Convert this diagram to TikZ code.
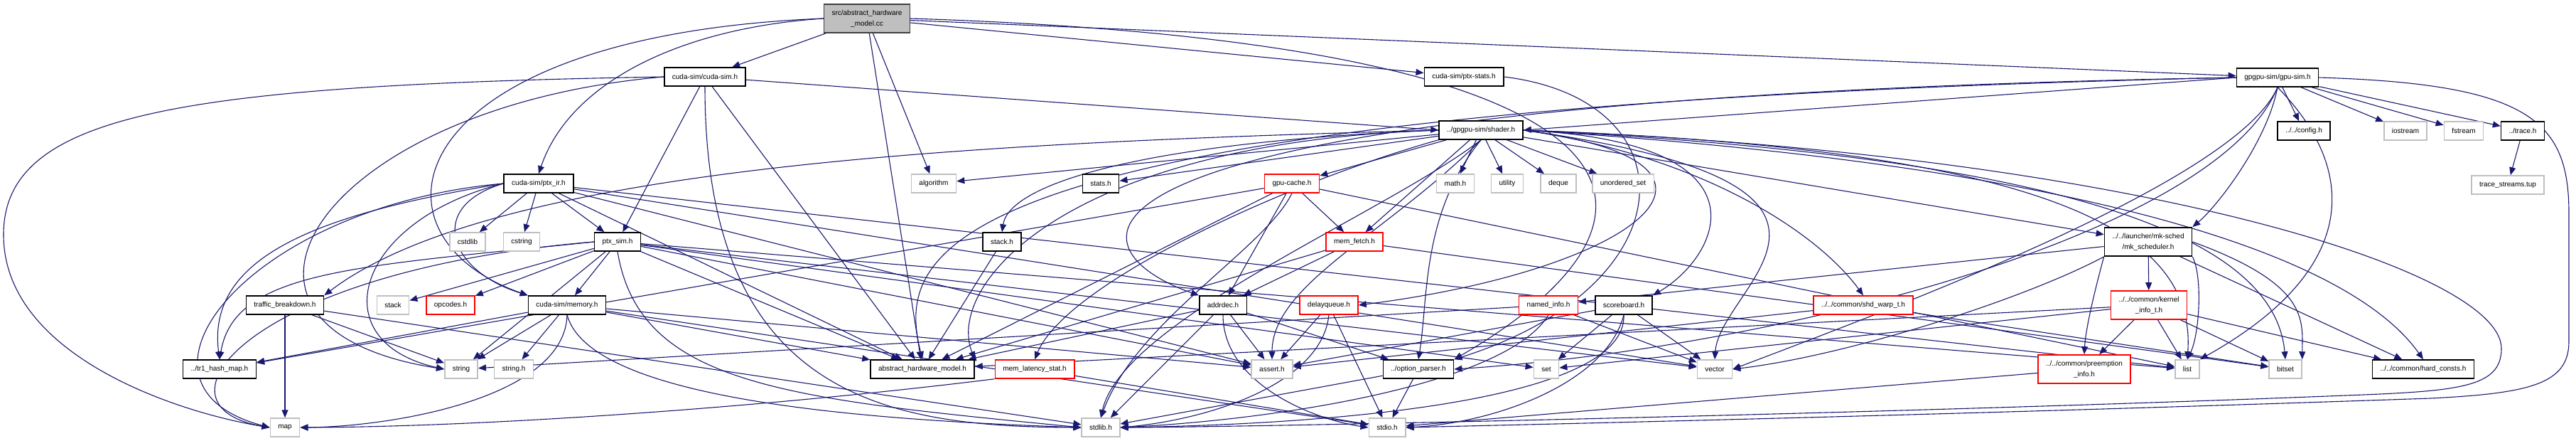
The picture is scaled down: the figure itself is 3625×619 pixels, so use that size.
\documentclass[tikz,border=0pt]{standalone}
\usepackage{fontspec}
\setmainfont{Liberation Sans}
\usepackage{tikz}
\usetikzlibrary{arrows.meta}
\definecolor{edgeBlue}{HTML}{191970}
\definecolor{sysGray}{HTML}{BFBFBF}
\definecolor{missRed}{HTML}{FF0000}
\pgfdeclarelayer{edges}
\pgfsetlayers{edges,main}
\tikzset{
  fbox/.style={rectangle, line width=1.5pt, fill=white, inner xsep=11pt, inner ysep=8pt,
    minimum height=26pt, align=center, font=\fontsize{10}{15}\selectfont},
  doc/.style={fbox, draw=black},
  sys/.style={fbox, draw=sysGray},
  miss/.style={fbox, draw=missRed},
  root/.style={fbox, draw=black!75, fill=sysGray},
  inc/.style={draw=edgeBlue, line width=1.1pt, -{Triangle[length=11pt,width=9pt]}},
}
% x, y, name, label, kind
\newcommand{\fnode}[5]{\node[#5] (#3) at (#1,#2) {#4};}

\begin{document}
\begin{tikzpicture}[x=1pt,y=-1pt]
\useasboundingbox (0,0) rectangle (3625,619);
% row 0-2
\fnode{1220}{26}{src}{src/abstract\_hardware\\\_model.cc}{root}
\fnode{992}{108}{cudasim}{cuda-sim/cuda-sim.h}{doc}
\fnode{2060}{108}{ptxstats}{cuda-sim/ptx-stats.h}{doc}
\fnode{3205}{109}{gpusim}{gpgpu-sim/gpu-sim.h}{doc}
\fnode{2084}{183}{shader}{../gpgpu-sim/shader.h}{doc}
\fnode{3242}{184}{config}{../../config.h}{doc}
\fnode{3385}{184}{iostream}{iostream}{sys}
\fnode{3467}{184}{fstream}{fstream}{sys}
\fnode{3550}{184}{trace}{../trace.h}{doc}
% row 3
\fnode{758}{258}{ptxir}{cuda-sim/ptx\_ir.h}{doc}
\fnode{1314}{258}{algorithm}{algorithm}{sys}
\fnode{1549}{258}{stats}{stats.h}{doc}
\fnode{1818}{258}{gpucache}{gpu-cache.h}{miss}
\fnode{2048}{258}{mathh}{math.h}{sys}
\fnode{2121}{258}{utility}{utility}{sys}
\fnode{2193}{258}{deque}{deque}{sys}
\fnode{2284}{258}{uset}{unordered\_set}{sys}
\fnode{3529}{260}{tracestreams}{trace\_streams.tup}{sys}
% row 4
\fnode{658}{340}{cstdlib}{cstdlib}{sys}
\fnode{734}{340}{cstring}{cstring}{sys}
\fnode{869}{340}{ptxsim}{ptx\_sim.h}{doc}
\fnode{1410}{340}{stackh}{stack.h}{doc}
\fnode{1906}{340}{memfetch}{mem\_fetch.h}{miss}
\fnode{3023}{340}{mksched}{../../launcher/mk-sched\\/mk\_scheduler.h}{doc}
% row 5
\fnode{401}{429}{traffic}{traffic\_breakdown.h}{doc}
\fnode{553}{429}{stack}{stack}{sys}
\fnode{634}{429}{opcodes}{opcodes.h}{miss}
\fnode{798}{429}{memory}{cuda-sim/memory.h}{doc}
\fnode{1721}{429}{addrdec}{addrdec.h}{doc}
\fnode{1870}{429}{delayqueue}{delayqueue.h}{miss}
\fnode{2179}{429}{namedinfo}{named\_info.h}{miss}
\fnode{2285}{429}{scoreboard}{scoreboard.h}{doc}
\fnode{2622}{429}{shdwarp}{../../common/shd\_warp\_t.h}{miss}
\fnode{3024}{429}{kernelinfo}{../../common/kernel\\\_info\_t.h}{miss}
% row 6
\fnode{309}{519}{tr1}{../tr1\_hash\_map.h}{doc}
\fnode{649}{519}{stringn}{string}{sys}
\fnode{723}{519}{stringh}{string.h}{sys}
\fnode{1298}{519}{ahmh}{abstract\_hardware\_model.h}{doc}
\fnode{1456}{519}{memlat}{mem\_latency\_stat.h}{miss}
\fnode{1790}{519}{assert}{assert.h}{sys}
\fnode{1996}{519}{optparser}{../option\_parser.h}{doc}
\fnode{2176}{519}{set}{set}{sys}
\fnode{2413}{519}{vector}{vector}{sys}
\fnode{2933}{519}{preempt}{../../common/preemption\\\_info.h}{miss}
\fnode{3078}{519}{list}{list}{sys}
\fnode{3216}{519}{bitset}{bitset}{sys}
\fnode{3410}{519}{hardconsts}{../../common/hard\_consts.h}{doc}
% row 7
\fnode{401}{601}{mapn}{map}{sys}
\fnode{1549}{601}{stdlib}{stdlib.h}{sys}
\fnode{1952}{601}{stdio}{stdio.h}{sys}

\begin{pgfonlayer}{edges}
% straight includes
\foreach \s/\t in {src/cudasim, src/algorithm, src/ahmh, src/ptxstats, src/gpusim,
  cudasim/ptxsim, cudasim/ahmh,
  gpusim/config, gpusim/iostream, gpusim/fstream, gpusim/trace,
  trace/tracestreams,
  shader/gpucache, shader/memfetch, shader/mathh, shader/utility, shader/deque,
  shader/uset, shader/stats, shader/algorithm, shader/mksched,
  ptxir/cstdlib, ptxir/cstring, ptxir/ptxsim, ptxir/assert, ptxir/ahmh, ptxir/vector, ptxir/list,
  ptxsim/memory, ptxsim/opcodes, ptxsim/stack, ptxsim/stringn, ptxsim/ahmh,
  ptxsim/assert, ptxsim/set, ptxsim/vector, ptxsim/list,
  memory/stringn, memory/stringh, memory/ahmh, memory/assert, memory/stdio, memory/tr1,
  traffic/mapn, traffic/stringn, traffic/stdlib,
  gpucache/memfetch, gpucache/addrdec, gpucache/ahmh, gpucache/tr1, gpucache/list,
  memfetch/addrdec, memfetch/ahmh, memfetch/bitset,
  stackh/ahmh,
  addrdec/assert, addrdec/stdlib, addrdec/ahmh, addrdec/optparser,
  delayqueue/assert, delayqueue/stdio,
  namedinfo/vector, namedinfo/stringn,
  scoreboard/set, scoreboard/vector, scoreboard/assert,
  optparser/stdio, optparser/stdlib,
  memlat/stdio,
  shdwarp/bitset, shdwarp/assert,
  mksched/kernelinfo, mksched/hardconsts, mksched/namedinfo,
  kernelinfo/preempt, kernelinfo/list, kernelinfo/bitset, kernelinfo/hardconsts,
  kernelinfo/ahmh, kernelinfo/set,
  preempt/stdio}
  \draw[inc] (\s) -- (\t);
% root, curved
\draw[inc] (src.west) .. controls (950,40) and (800,120) .. (ptxir.north);
\draw[inc] (src.west) .. controls (560,50) and (500,330) .. (memory.north west);
\draw[inc] (src.east) .. controls (2350,60) and (2400,300) .. (optparser.north east);
% cuda-sim.h
\draw[inc] (cudasim) -- (shader.west);
\draw[inc] (cudasim.south) .. controls (992,560) and (1250,600) .. (stdlib.west);
\draw[inc] (cudasim.west) .. controls (250,120) and (5,160) .. (5,330)
  .. controls (5,500) and (250,580) .. (mapn.west);
\draw[inc] (cudasim.west) .. controls (450,150) and (250,460) .. (stringn.west);
% ptx-stats.h
\draw[inc] (ptxstats.east) .. controls (2380,140) and (2380,400) .. (optparser.north east);
% gpu-sim.h
\draw[inc] (gpusim.west) -- (shader.east);
\draw[inc] (gpusim.west) .. controls (1400,140) and (1500,350) .. (addrdec.north west);
\draw[inc] (gpusim.west) .. controls (1300,150) and (1260,350) .. (ahmh.north);
\draw[inc] (gpusim.south) .. controls (3190,200) and (3120,290) .. (mksched.north east);
\draw[inc] (gpusim.south) .. controls (3150,250) and (2700,420) .. (vector.east);
\draw[inc] (gpusim.south) .. controls (3320,240) and (3320,380) .. (list.north east);
\draw[inc] (gpusim.south) .. controls (3120,330) and (2500,490) .. (optparser.east);
\draw[inc] (gpusim.east) .. controls (3560,118) and (3615,170) .. (3615,300) -- (3615,480)
  .. controls (3615,540) and (3560,553) .. (3420,560)
  .. controls (2700,585) and (2100,598) .. (stdio.east);
% shader.h
\draw[inc] (shader.west) .. controls (1600,200) and (1420,260) .. (stackh.north);
\draw[inc] (shader.west) .. controls (1400,200) and (700,230) .. (traffic.north east);
\draw[inc] (shader.west) .. controls (1500,200) and (1330,400) .. (ahmh.north east);
\draw[inc] (shader.south west) .. controls (1800,260) and (1500,400) .. (memlat.north);
\draw[inc] (shader.south) .. controls (1950,300) and (1580,450) .. (stdlib.north);
\draw[inc] (shader.south) .. controls (1950,330) and (1790,400) .. (assert.north);
\draw[inc] (shader.south) .. controls (2000,300) and (2010,420) .. (optparser.north);
\draw[inc] (shader.east) .. controls (2500,230) and (2300,380) .. (delayqueue.east);
\draw[inc] (shader.east) .. controls (2500,200) and (2420,360) .. (scoreboard.north east);
\draw[inc] (shader.east) .. controls (2400,220) and (2560,330) .. (shdwarp.north);
\draw[inc] (shader.east) .. controls (2700,260) and (2420,400) .. (vector.north);
\draw[inc] (shader.east) .. controls (2900,230) and (3300,350) .. (hardconsts.north);
\draw[inc] (shader.east) .. controls (2900,220) and (3200,330) .. (bitset.north);
\draw[inc] (shader.east) .. controls (2900,210) and (3090,330) .. (list.north);
\draw[inc] (shader.east) .. controls (3000,215) and (3520,380) .. (3520,490)
  .. controls (3520,545) and (3460,550) .. (3300,556)
  .. controls (2700,580) and (1800,600) .. (stdlib.east);
% ptx_ir.h
\draw[inc] (ptxir.west) .. controls (600,290) and (630,380) .. (memory.north west);
\draw[inc] (ptxir.west) .. controls (350,290) and (150,540) .. (mapn.west);
\draw[inc] (ptxir.west) .. controls (450,300) and (290,360) .. (tr1.north);
\draw[inc] (ptxir.west) .. controls (500,310) and (450,480) .. (stringn.west);
% ptx_sim.h
\draw[inc] (ptxsim.west) .. controls (500,375) and (330,380) .. (tr1.north);
\draw[inc] (ptxsim.west) .. controls (350,380) and (200,570) .. (mapn.west);
\draw[inc] (ptxsim.south) .. controls (900,540) and (1100,560) .. (stdlib.west);
% memory.h
\draw[inc] (memory.south) .. controls (795,560) and (550,600) .. (mapn.east);
\draw[inc] (memory.south) .. controls (830,560) and (1200,590) .. (stdlib.west);
% mk_scheduler.h, round kernel_info_t.h
\draw[inc] (mksched.south west) .. controls (2950,400) and (2935,460) .. (preempt.north);
\draw[inc] (mksched.south east) .. controls (3100,390) and (3095,470) .. (list.north);
\draw[inc] (mksched.south west) .. controls (2850,420) and (2600,500) .. (vector.east);
\draw[inc] (mksched.east) .. controls (3250,400) and (3240,450) .. (bitset.north east);
% remaining curved
\draw[inc] (gpucache.south) .. controls (1780,350) and (1600,450) .. (stdlib.north);
\draw[inc] (addrdec.south) .. controls (1721,540) and (1850,590) .. (stdio.west);
\draw[inc] (delayqueue.south) .. controls (1860,540) and (1700,590) .. (stdlib.east);
\draw[inc] (namedinfo.south) .. controls (2120,540) and (1800,590) .. (stdlib.east);
\draw[inc] (scoreboard.south) .. controls (2260,540) and (2100,595) .. (stdio.east);
\draw[inc] (scoreboard.south) .. controls (2290,560) and (1900,596) .. (stdlib.east);
\draw[inc] (memlat.south west) .. controls (1100,570) and (700,600) .. (mapn.east);
\end{pgfonlayer}
\end{tikzpicture}
\end{document}
